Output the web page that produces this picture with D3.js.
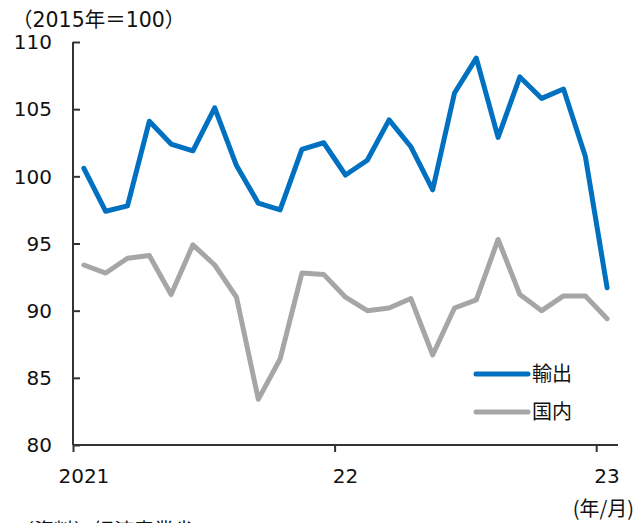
<!DOCTYPE html>
<html>
<head>
<meta charset="utf-8">
<script src="https://cdn.jsdelivr.net/npm/d3@7"></script>
<style>
  html, body { margin: 0; padding: 0; background: #fff; }
  svg { display: block; }
  text { font-family: "DejaVu Sans", "Noto Sans CJK JP", sans-serif; fill: #111; }
</style>
</head>
<body>
<svg id="chart" width="633" height="523"></svg>
<script>
// Monthly index, Jan 2021 – Jan 2023 (2015 = 100)
const exportIdx = [100.6, 97.4, 97.8, 104.1, 102.4, 101.9, 105.1, 100.8, 98.0, 97.5, 102.0, 102.5,
                   100.1, 101.2, 104.2, 102.2, 99.0, 106.2, 108.8, 102.9, 107.4, 105.8, 106.5, 101.5, 91.7];
const domesticIdx = [93.4, 92.8, 93.9, 94.1, 91.2, 94.9, 93.4, 91.0, 83.4, 86.4, 92.8, 92.7,
                     91.0, 90.0, 90.2, 90.9, 86.7, 90.2, 90.8, 95.3, 91.2, 90.0, 91.1, 91.1, 89.4];
const seriesNames = ["輸出", "国内"];
const seriesColors = ["#0070C0", "#A6A6A6"];
const yTicks = [80, 85, 90, 95, 100, 105, 110];
const xTickMonths = [0, 12, 24];
const xTickLabels = ["2021", "22", "23"];
const unitLabel = "（2015年＝100）";
const periodLabel = "(年/月)";
const sourceLabel = "（資料）経済産業省";

const svg = d3.select("#chart");
const plotL = 73, plotR = 618, plotT = 42, plotB = 445;
const fs = 20;

// each month occupies one slot; points sit at slot centres
const x = d3.scaleLinear().domain([0, 25]).range([plotL, plotR]);
const y = d3.scaleLinear().domain([80, 110]).range([plotB, plotT]);

// y axis (ticks point into the plot)
const yAxis = svg.append("g").attr("transform", `translate(${plotL},0)`)
  .call(d3.axisRight(y).tickValues(yTicks).tickSize(7).tickFormat(() => ""));
yAxis.select(".domain").attr("d", `M0,${plotT}V${plotB}`);
yAxis.selectAll("path, line").attr("stroke", "#333").attr("stroke-width", 2);

svg.append("g").selectAll("text").data(yTicks).join("text")
  .attr("x", 52).attr("y", d => y(d)).attr("dy", "0.36em")
  .attr("text-anchor", "end").attr("font-size", fs).text(d => d);

// x axis
const xAxis = svg.append("g").attr("transform", `translate(0,${plotB})`)
  .call(d3.axisBottom(x).tickValues(xTickMonths).tickSize(7).tickFormat(() => ""));
xAxis.select(".domain").attr("d", `M${plotL},0H${plotR}`);
xAxis.selectAll("path, line").attr("stroke", "#333").attr("stroke-width", 2);

svg.append("g").selectAll("text").data(xTickMonths).join("text")
  .attr("x", d => x(d + 0.5)).attr("y", 483)
  .attr("text-anchor", "middle").attr("font-size", fs)
  .text((d, i) => xTickLabels[i]);

// series lines
const line = d3.line().x((d, i) => x(i + 0.5)).y(d => y(d));
[exportIdx, domesticIdx].forEach((vals, k) => {
  svg.append("path").datum(vals)
    .attr("fill", "none").attr("stroke", seriesColors[k])
    .attr("stroke-width", 5).attr("stroke-linejoin", "round").attr("stroke-linecap", "round")
    .attr("d", line);
});

// legend
const legY = [374, 412];
seriesNames.forEach((name, k) => {
  svg.append("line").attr("x1", 476).attr("x2", 528).attr("y1", legY[k]).attr("y2", legY[k])
    .attr("stroke", seriesColors[k]).attr("stroke-width", 5).attr("stroke-linecap", "round");
  svg.append("text").attr("x", 532).attr("y", legY[k]).attr("dy", "0.36em")
    .attr("font-size", fs).text(name);
});

// labels
svg.append("text").attr("x", 12).attr("y", 27).attr("font-size", 20.5).text(unitLabel);
svg.append("text").attr("x", 634).attr("y", 516).attr("text-anchor", "end")
  .attr("font-size", fs).style("font-family", "'Noto Sans CJK JP', sans-serif").text(periodLabel);
svg.append("text").attr("x", 14).attr("y", 538).attr("font-size", fs).text(sourceLabel);
</script>
</body>
</html>
